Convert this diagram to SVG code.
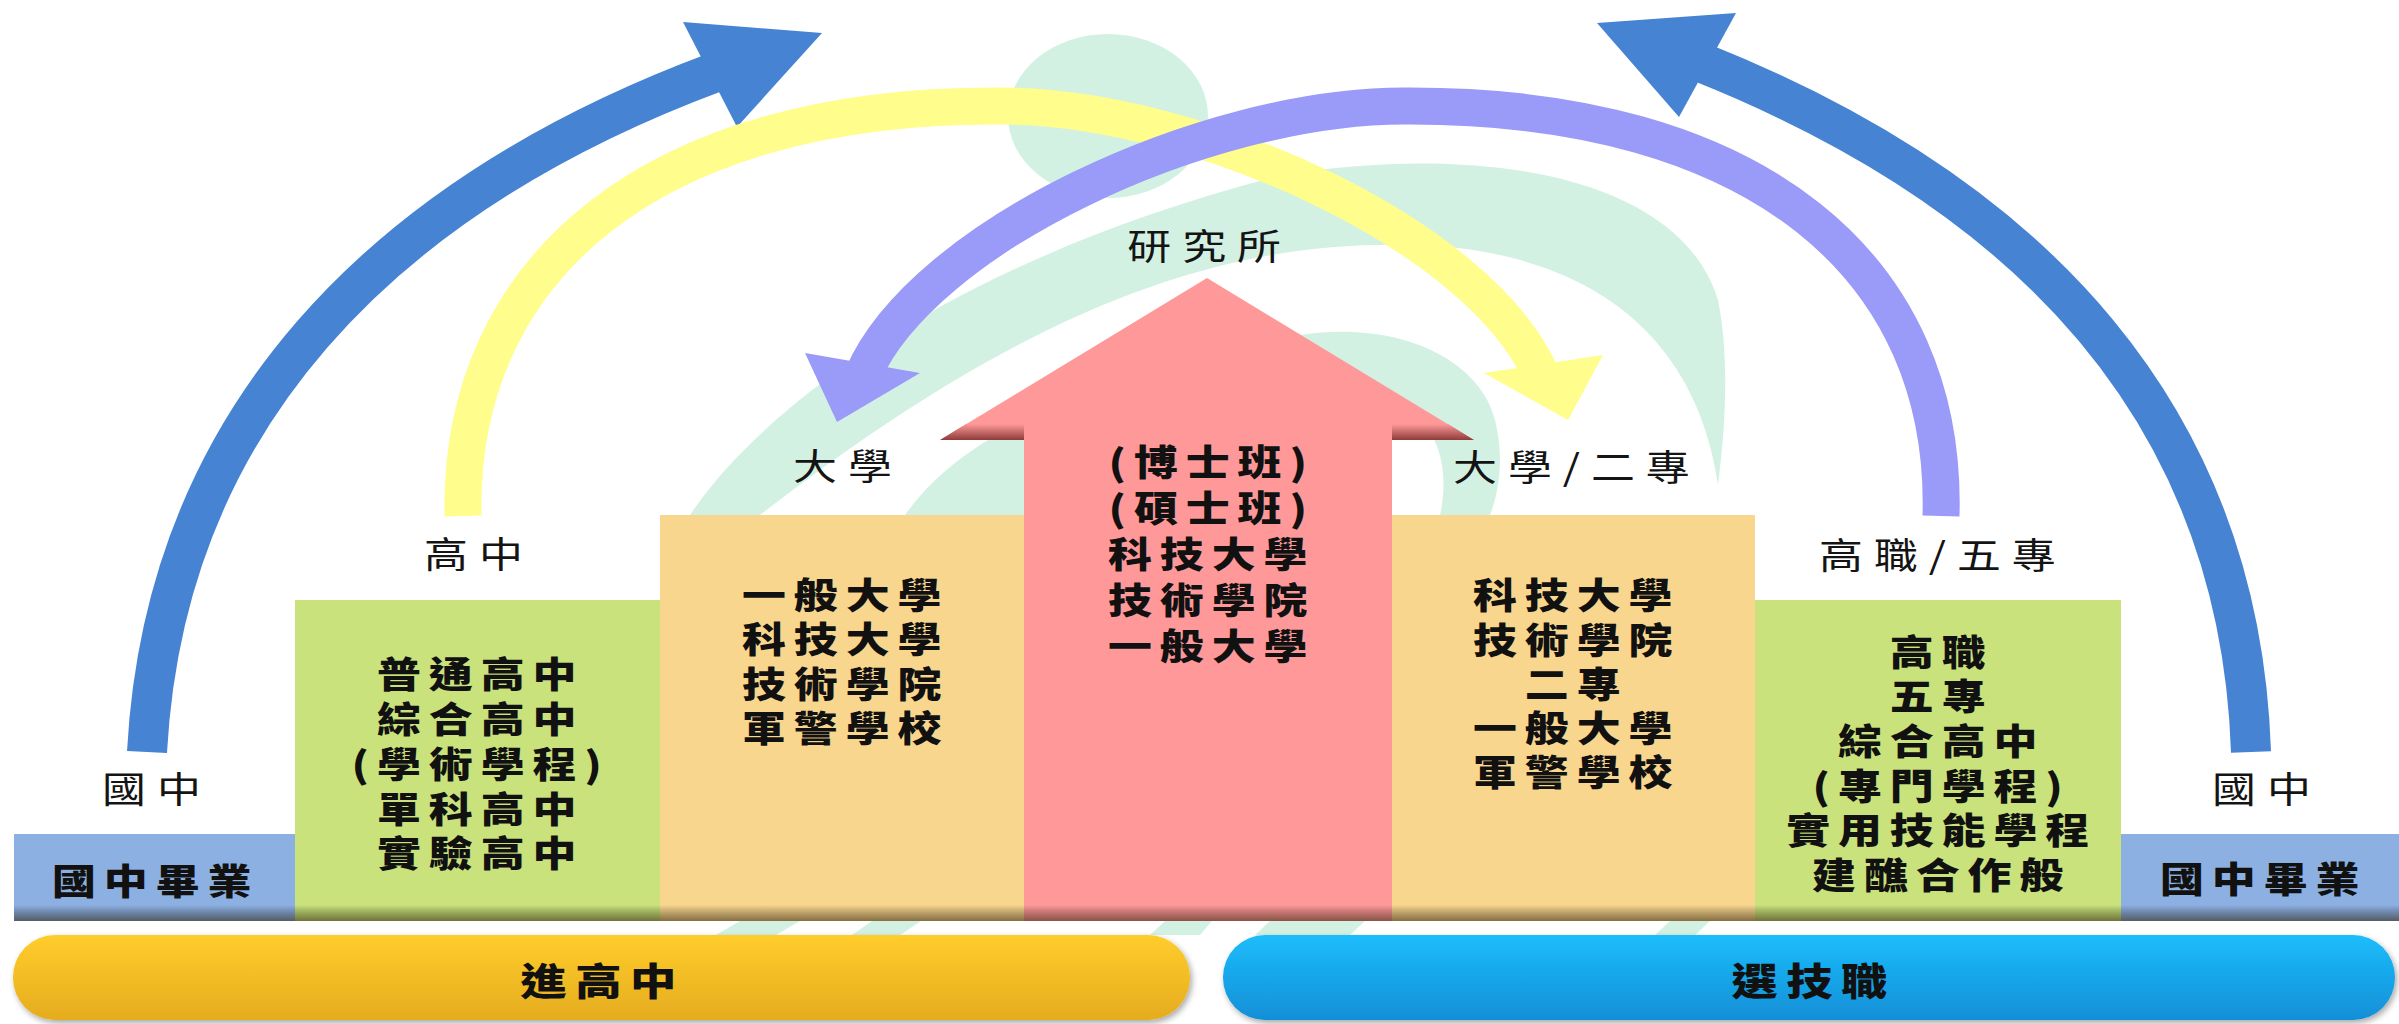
<svg xmlns="http://www.w3.org/2000/svg" width="2399" height="1024" viewBox="0 0 2399 1024">
<defs>
<style>
.lbl{font-family:'Noto Sans CJK TC','Noto Sans CJK SC',sans-serif;font-size:36px;font-weight:400;fill:#141414;letter-spacing:9px;text-anchor:middle}
.bd{font-family:'Noto Sans CJK TC','Noto Sans CJK SC',sans-serif;font-size:36px;font-weight:900;fill:#111;letter-spacing:6.5px;text-anchor:middle}
.pt{font-family:'Noto Sans CJK TC','Noto Sans CJK SC',sans-serif;font-size:38px;font-weight:900;fill:#111;letter-spacing:7px;text-anchor:middle}
.mint{fill:#D3F1E3}
.shade{fill:url(#shade)}
.arc{fill:none;stroke-linecap:butt}
</style>
<linearGradient id="shade" x1="0" y1="0" x2="0" y2="1">
<stop offset="0" stop-color="#000" stop-opacity="0"/>
<stop offset="1" stop-color="#2a1a00" stop-opacity="0.55"/>
</linearGradient>
<linearGradient id="gy" x1="0" y1="0" x2="0" y2="1">
<stop offset="0" stop-color="#FFCD2C"/>
<stop offset="1" stop-color="#E5AC1E"/>
</linearGradient>
<linearGradient id="gb" x1="0" y1="0" x2="0" y2="1">
<stop offset="0" stop-color="#1DBDFB"/>
<stop offset="1" stop-color="#118FD7"/>
</linearGradient>
<linearGradient id="bev" x1="0" y1="0" x2="0" y2="1">
<stop offset="0" stop-color="#FF9999"/>
<stop offset="1" stop-color="#8E3B3B"/>
</linearGradient>
<filter id="ds" x="-5%" y="-20%" width="110%" height="150%">
<feGaussianBlur in="SourceAlpha" stdDeviation="3"/>
<feOffset dx="2" dy="3" result="b"/>
<feComponentTransfer><feFuncA type="linear" slope="0.35"/></feComponentTransfer>
<feMerge><feMergeNode/><feMergeNode in="SourceGraphic"/></feMerge>
</filter>
</defs>

<rect width="2399" height="1024" fill="#FFFFFF"/>

<g id="watermark">
<ellipse class="mint" cx="1108" cy="116" rx="100" ry="82"/>
<path class="mint" d="M690,515 C760,410 950,260 1283,175 C1480,143 1680,175 1718,300 C1730,360 1725,430 1718,485 C1700,360 1620,265 1450,247 C1250,232 1050,290 760,515 Z"/>
<path class="mint" d="M905,515 C930,480 965,450 1024,420 L1100,420 L1100,515 Z"/>
<path class="mint" d="M1300,335 C1400,320 1480,360 1495,420 C1505,460 1498,495 1490,515 L1440,515 C1450,470 1440,420 1392,400 Z"/>
<polygon class="mint" points="716,935 740,921 800,921 776,935"/>
<polygon class="mint" points="852,935 872,921 921,921 900,935"/>
<polygon class="mint" points="1150,935 1165,921 1212,921 1200,935"/>
<polygon class="mint" points="1255,935 1270,921 1365,921 1350,935"/>
<polygon class="mint" points="1655,935 1670,921 1710,921 1695,935"/>
</g>

<g id="connectors">
<path class="arc" d="M147,752 C165,420 380,197 716,72" stroke="#4683D3" stroke-width="40"/>
<polygon points="683,22 822,33 737,127" fill="#4683D3"/>
<path class="arc" d="M2251,752 C2240,420 2038,197 1700,62" stroke="#4683D3" stroke-width="40"/>
<polygon points="1597,23 1736,13 1679,117" fill="#4683D3"/>
<path class="arc" d="M463,516 C458,270 650,104 1000,106 C1200,106 1481,237 1541,375" stroke="#FFFD8C" stroke-width="37"/>
<polygon points="1484,373 1603,355 1568,420" fill="#FFFD8C"/>
<path class="arc" d="M1941,516 C1948,270 1760,104 1404,106 C1204,106 923,237 863,375" stroke="#9A9AF8" stroke-width="37"/>
<polygon points="805,353 920,373 837,422" fill="#9A9AF8"/>
</g>

<g id="node-junior-left">
<text class="lbl" x="4" y="803" transform="translate(152,0) scale(1.22,1)">國中</text>
<rect x="14" y="834" width="281" height="87" fill="#8DB0E2"/>
<rect class="shade" x="14" y="905" width="281" height="16"/>
<text class="bd" x="3" y="895" transform="translate(152,0) scale(1.22,1)">國中畢業</text>
</g>

<g id="node-senior-high">
<text class="lbl" x="4" y="568" transform="translate(474,0) scale(1.22,1)">高中</text>
<rect x="295" y="600" width="365" height="321" fill="#C9E27C"/>
<rect class="shade" x="295" y="905" width="365" height="16"/>
<g transform="translate(477,0) scale(1.22,1)">
<text class="bd" x="3" y="688">普通高中</text>
<text class="bd" x="3" y="733">綜合高中</text>
<text class="bd" x="3" y="778">(學術學程)</text>
<text class="bd" x="3" y="823">單科高中</text>
<text class="bd" x="3" y="867">實驗高中</text>
</g>
</g>

<g id="node-university">
<text class="lbl" x="4" y="480" transform="translate(843,0) scale(1.22,1)">大學</text>
<rect x="660" y="515" width="364" height="406" fill="#F9D68E"/>
<rect class="shade" x="660" y="905" width="364" height="16"/>
<g transform="translate(842,0) scale(1.22,1)">
<text class="bd" x="3" y="609">一般大學</text>
<text class="bd" x="3" y="653">科技大學</text>
<text class="bd" x="3" y="698">技術學院</text>
<text class="bd" x="3" y="742">軍警學校</text>
</g>
</g>

<g id="node-graduate">
<text class="lbl" x="3" y="260" transform="translate(1206,0) scale(1.22,1)">研究所</text>
<polygon points="1024,921 1024,440 940,440 1207,278 1474,440 1392,440 1392,921" fill="#FF9999"/>
<polygon points="940,440 1024,440 1024,424 966,424" fill="url(#bev)"/>
<polygon points="1474,440 1392,440 1392,424 1448,424" fill="url(#bev)"/>
<rect class="shade" x="1024" y="905" width="368" height="16"/>
<g transform="translate(1208,0) scale(1.22,1)">
<text class="bd" x="3" y="476">(博士班)</text>
<text class="bd" x="3" y="522">(碩士班)</text>
<text class="bd" x="3" y="568">科技大學</text>
<text class="bd" x="3" y="614">技術學院</text>
<text class="bd" x="3" y="660">一般大學</text>
</g>
</g>

<g id="node-tech-university">
<text class="lbl" x="4" y="481" transform="translate(1572,0) scale(1.22,1)">大學/二專</text>
<rect x="1392" y="515" width="363" height="406" fill="#F9D68E"/>
<rect class="shade" x="1392" y="905" width="363" height="16"/>
<g transform="translate(1573,0) scale(1.22,1)">
<text class="bd" x="3" y="609">科技大學</text>
<text class="bd" x="3" y="654">技術學院</text>
<text class="bd" x="3" y="698">二專</text>
<text class="bd" x="3" y="742">一般大學</text>
<text class="bd" x="3" y="786">軍警學校</text>
</g>
</g>

<g id="node-vocational">
<text class="lbl" x="4" y="569" transform="translate(1938,0) scale(1.22,1)">高職/五專</text>
<rect x="1755" y="600" width="366" height="321" fill="#C9E27C"/>
<rect class="shade" x="1755" y="905" width="366" height="16"/>
<g transform="translate(1938,0) scale(1.22,1)">
<text class="bd" x="3" y="666">高職</text>
<text class="bd" x="3" y="710">五專</text>
<text class="bd" x="3" y="755">綜合高中</text>
<text class="bd" x="3" y="800">(專門學程)</text>
<text class="bd" x="3" y="844">實用技能學程</text>
<text class="bd" x="3" y="889">建醮合作般</text>
</g>
</g>

<g id="node-junior-right">
<text class="lbl" x="4" y="803" transform="translate(2262,0) scale(1.22,1)">國中</text>
<rect x="2121" y="834" width="278" height="87" fill="#8DB0E2"/>
<rect class="shade" x="2121" y="905" width="278" height="16"/>
<text class="bd" x="3" y="893" transform="translate(2260,0) scale(1.22,1)">國中畢業</text>
</g>

<g id="node-academic-track">
<rect x="13" y="935" width="1177" height="85" rx="42" ry="42" fill="url(#gy)" filter="url(#ds)"/>
<text class="pt" x="3" y="995" transform="translate(599,0) scale(1.22,1)">進高中</text>
</g>

<g id="node-vocational-track">
<rect x="1223" y="935" width="1172" height="85" rx="42" ry="42" fill="url(#gb)" filter="url(#ds)"/>
<text class="pt" x="3" y="995" transform="translate(1810,0) scale(1.22,1)">選技職</text>
</g>
</svg>
